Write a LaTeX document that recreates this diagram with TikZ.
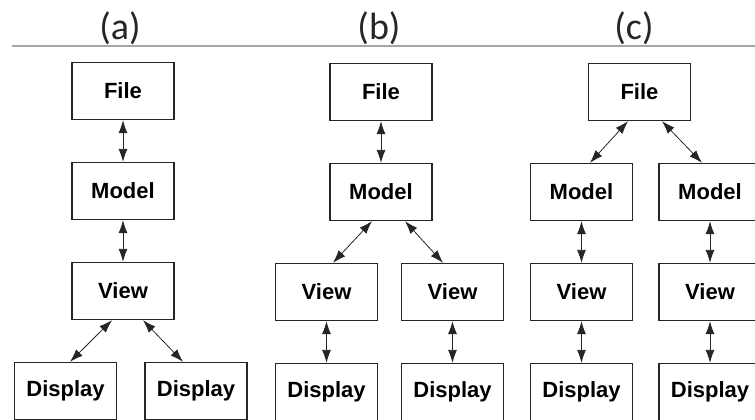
\documentclass[tikz,border=0pt]{standalone}
\usepackage{fontspec}
\setmainfont{Liberation Sans}
\newfontfamily\capfont{Carlito}
\usetikzlibrary{positioning, arrows.meta}

\tikzset{
    box/.style={draw=black!85, line width=1.3pt, minimum width=102pt, minimum height=57pt,
        inner sep=0pt, font=\fontsize{22}{24}\selectfont\bfseries},
    link/.style={{Latex[length=13pt,width=9pt]}-{Latex[length=13pt,width=9pt]}, line width=0.8pt, black!85},
    caption/.style={font=\capfont\fontsize{38}{40}\selectfont, text=black!85, inner sep=0pt, anchor=base},
}

\begin{document}
\begin{tikzpicture}[x=1pt, y=-1pt, node distance=100pt, on grid]
    \useasboundingbox (0,0) rectangle (755,420);
    \clip (0,0) rectangle (755,420);

    % Captions
    \node[caption] (cap-a) at (120,40) {(a)};
    \node[caption] (cap-b) at (379,40) {(b)};
    \node[caption] (cap-c) at (634,40) {(c)};
    \draw[black!35, line width=1.2pt] (12,46) -- (755,46);

    % (a) one view, two displays
    \node[box] (a-file) at (123,91) {File};
    \node[box] (a-model) [below=of a-file] {Model};
    \node[box] (a-view) [below=of a-model] {View};
    \node[box] (a-disp1) [below left=100pt and 57.5pt of a-view] {Display};
    \node[box] (a-disp2) [below right=100pt and 73pt of a-view] {Display};

    % (b) one model, two views
    \node[box] (b-file) at (381,92) {File};
    \node[box] (b-model) [below=of b-file] {Model};
    \node[box] (b-view1) [below left=100pt and 54.5pt of b-model] {View};
    \node[box] (b-view2) [below right=100pt and 71.5pt of b-model] {View};
    \node[box] (b-disp1) [below=of b-view1] {Display};
    \node[box] (b-disp2) [below=of b-view2] {Display};

    % (c) one file, two models
    \node[box] (c-file) at (639.5,92) {File};
    \node[box] (c-model1) [below left=100pt and 58pt of c-file] {Model};
    \node[box] (c-model2) [below right=100pt and 70.5pt of c-file] {Model};
    \node[box] (c-view1) [below=of c-model1] {View};
    \node[box] (c-view2) [below=of c-model2] {View};
    \node[box] (c-disp1) [below=of c-view1] {Display};
    \node[box] (c-disp2) [below=of c-view2] {Display};

    % Links
    \draw[link] (a-file) -- (a-model);
    \draw[link] (a-model) -- (a-view);
    \draw[link] ([xshift=-11pt]a-view.south) -- ([xshift=4.5pt]a-disp1.north);
    \draw[link] ([xshift=20pt]a-view.south) -- ([xshift=-13pt]a-disp2.north);

    \draw[link] (b-file) -- (b-model);
    \draw[link] ([xshift=-9pt]b-model.south) -- ([xshift=6.5pt]b-view1.north);
    \draw[link] ([xshift=24pt]b-model.south) -- ([xshift=-9.5pt]b-view2.north);
    \draw[link] (b-view1) -- (b-disp1);
    \draw[link] (b-view2) -- (b-disp2);

    \draw[link] ([xshift=-11.5pt]c-file.south) -- ([xshift=8.5pt]c-model1.north);
    \draw[link] ([xshift=22.5pt]c-file.south) -- ([xshift=-8pt]c-model2.north);
    \draw[link] (c-model1) -- (c-view1);
    \draw[link] (c-model2) -- (c-view2);
    \draw[link] (c-view1) -- (c-disp1);
    \draw[link] (c-view2) -- (c-disp2);
\end{tikzpicture}
\end{document}
